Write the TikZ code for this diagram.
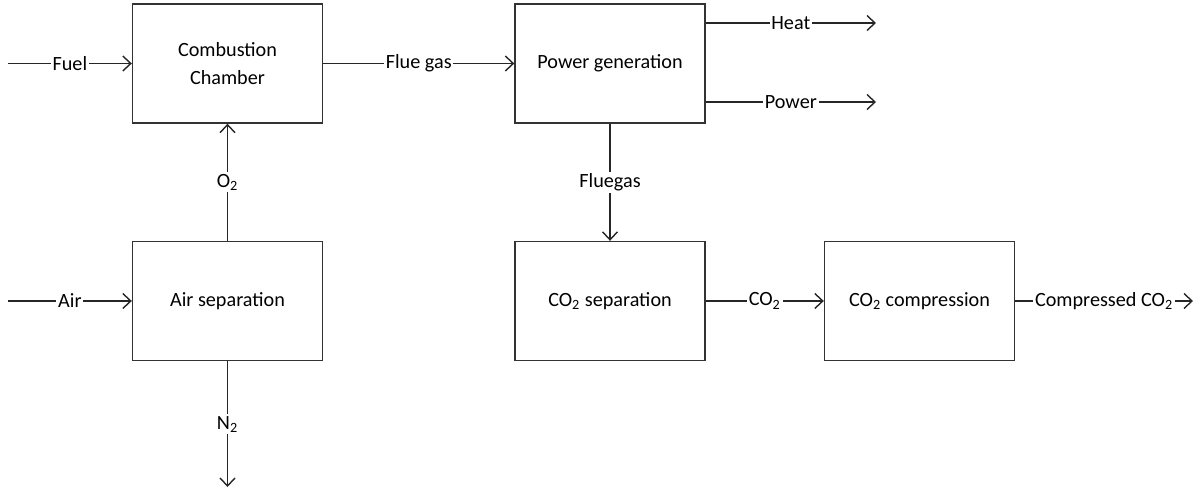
\documentclass[tikz,border=0pt]{standalone}
\usepackage{fontspec}
\setmainfont{Carlito}
\usetikzlibrary{arrows.meta,positioning}

\begin{document}
\begin{tikzpicture}[x=0.02cm,y=-0.02cm,font=\fontsize{11.5}{15.5}\selectfont,
  unit/.style={draw=black!80,line width=0.8pt,minimum width=3.8cm,minimum height=2.38cm,align=center},
  flow/.style={line width=0.8pt,black!85,-{Straight Barb[length=1.6mm,width=3mm]}},
  lbl/.style={fill=white,inner sep=1pt,text=black}]
  \useasboundingbox (0,0) rectangle (1199,490);
  % process units
  \node[unit] (cc) at (227.5,63.5) {Combustion\\Chamber};
  \node[unit] (as) at (227.5,301) {Air separation};
  \node[unit] (pg) at (610,63.5) {Power generation};
  \node[unit] (cs) at (610,301) {CO\textsubscript{2} separation};
  \node[unit] (cp) at (919.5,301) {CO\textsubscript{2} compression};
  % free ends
  \coordinate (fuel) at (8,63.5);
  \coordinate (air) at (8,301);
  \coordinate (heat) at (876,23);
  \coordinate (power) at (876,102);
  \coordinate (n2) at (227.5,487);
  \coordinate (out) at (1193,301);
  % streams
  \draw[flow] (fuel) -- node[lbl]{Fuel} (cc);
  \draw[flow] (air) -- node[lbl]{Air} (as);
  \draw[flow] (as) -- node[lbl]{O\textsubscript{2}} (cc);
  \draw[flow] (as) -- node[lbl]{N\textsubscript{2}} (n2);
  \draw[flow] (cc) -- node[lbl]{Flue gas} (pg);
  \draw[flow] (pg.east |- heat) -- node[lbl]{Heat} (heat);
  \draw[flow] (pg.east |- power) -- node[lbl]{Power} (power);
  \draw[flow] (pg) -- node[lbl]{Fluegas} (cs);
  \draw[flow] (cs) -- node[lbl]{CO\textsubscript{2}} (cp);
  \draw[flow] (cp) -- node[lbl]{Compressed CO\textsubscript{2}} (out);
\end{tikzpicture}
\end{document}
